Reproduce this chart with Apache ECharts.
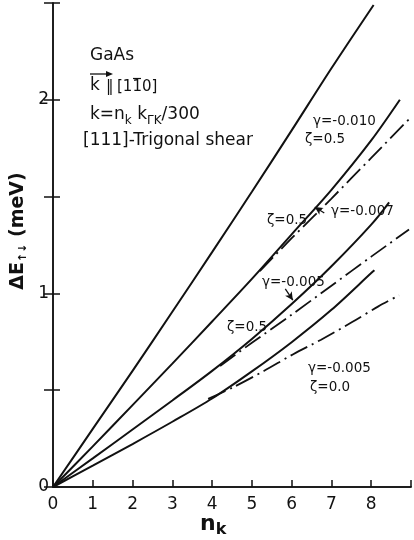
<!DOCTYPE html>
<html><head><meta charset="utf-8">
<script src="https://cdn.jsdelivr.net/npm/echarts@6/dist/echarts.min.js"></script>
<style>html,body{margin:0;padding:0;background:#fff}#c{width:414px;height:540px}</style>
</head><body><div id="c"></div>
<script>
// ---- data ----
const xTickLabels = ['0','1','2','3','4','5','6','7','8'];
const yTickLabels = ['0','1','2'];

// solid curves
const solid1X = [0, 1, 2, 3, 4, 5, 6, 7, 8.06];
const solid1Y = [0, 0.30, 0.60, 0.905, 1.213, 1.525, 1.842, 2.163, 2.49];
const solid2X = [0, 1, 2, 3, 4, 5, 6, 7, 8, 8.72];
const solid2Y = [0, 0.21, 0.423, 0.637, 0.855, 1.075, 1.305, 1.535, 1.79, 2.0];
const solid3X = [0, 1, 2, 3, 4, 5, 6, 7, 8, 8.45];
const solid3Y = [0, 0.148, 0.297, 0.447, 0.600, 0.765, 0.945, 1.14, 1.355, 1.47];
const solid4X = [0, 1, 2, 3, 4, 5, 6, 7, 8, 8.08];
const solid4Y = [0, 0.11, 0.222, 0.337, 0.457, 0.597, 0.748, 0.915, 1.105, 1.12];

// dash-dot curves
const dash2X = [5.2, 6, 7, 8, 8.95];
const dash2Y = [1.115, 1.285, 1.49, 1.70, 1.90];
const dash3X = [4.2, 5, 6, 7, 8, 8.95];
const dash3Y = [0.625, 0.745, 0.89, 1.04, 1.19, 1.33];
const dash4X = [3.9, 4.52, 5.3, 6.04, 6.74, 7.52, 8.18, 8.7];
const dash4Y = [0.455, 0.514, 0.599, 0.686, 0.761, 0.852, 0.933, 0.99];

// ---- chart ----
const pairs = (xs, ys) => xs.map((x, i) => [x, ys[i]]);
const FONT = '"DejaVu Sans", sans-serif';
const INK = '#111';

function solid(xs, ys) {
  return { type: 'line', data: pairs(xs, ys), showSymbol: false, smooth: 0.3,
    lineStyle: { color: INK, width: 2 }, silent: true, animation: false };
}
function dashdot(xs, ys) {
  return { type: 'line', data: pairs(xs, ys), showSymbol: false, smooth: 0.3,
    lineStyle: { color: INK, width: 1.8, type: [19, 5, 2, 5] }, silent: true, animation: false };
}

const chart = echarts.init(document.getElementById('c'), null, { renderer: 'canvas' });

const txt = (text, x, y, size, extra) => ({
  type: 'text', x: x, y: y, silent: true,
  style: Object.assign({ text: text, fill: INK, font: size + 'px ' + FONT,
    align: 'left', verticalAlign: 'middle' }, extra || {})
});

const option = {
  animation: false,
  backgroundColor: '#fff',
  grid: { left: 53, top: 3, width: 365.4, height: 484 },
  xAxis: [
    { type: 'value', min: 0, max: 9, interval: 1, position: 'bottom',
      axisLine: { show: true, lineStyle: { color: INK, width: 1.5 } },
      axisTick: { show: true, inside: true, length: 7, lineStyle: { color: INK, width: 1.5 } },
      axisLabel: { margin: 9, color: INK, fontSize: 17, fontFamily: FONT,
        formatter: v => (v <= 8 ? xTickLabels[v] : '') },
      splitLine: { show: false } },
    { type: 'value', min: 0, max: 9, position: 'top',
      axisLine: { show: true, lineStyle: { color: INK, width: 1.5 } },
      axisTick: { show: false }, axisLabel: { show: false }, splitLine: { show: false } }
  ],
  yAxis: [
    { type: 'value', min: 0, max: 2.5, interval: 0.5, position: 'left',
      axisLine: { show: true, lineStyle: { color: INK, width: 1.5 } },
      axisTick: { show: true, inside: true, length: 7, lineStyle: { color: INK, width: 1.5 } },
      axisLabel: { margin: 4, color: INK, fontSize: 17, fontFamily: FONT,
        formatter: v => (Number.isInteger(v) ? yTickLabels[v] : '') },
      splitLine: { show: false } },
    { type: 'value', min: 0, max: 2.5, interval: 0.5, position: 'right',
      axisLine: { show: true, lineStyle: { color: INK, width: 1.5 } },
      axisTick: { show: true, inside: true, length: 9, lineStyle: { color: INK, width: 1.5 } },
      axisLabel: { show: false }, splitLine: { show: false } }
  ],
  series: [
    solid(solid1X, solid1Y),
    solid(solid2X, solid2Y),
    solid(solid3X, solid3Y),
    solid(solid4X, solid4Y),
    dashdot(dash2X, dash2Y),
    dashdot(dash3X, dash3Y),
    dashdot(dash4X, dash4Y),
    { type: 'line', data: [], silent: true,
      markLine: { silent: true, animation: false, symbol: ['none', 'arrow'], symbolSize: [6, 8],
        label: { show: false }, lineStyle: { color: INK, width: 1.3, type: 'solid' },
        data: [
          [{ coord: [6.82, 1.415] }, { coord: [6.58, 1.446] }],
          [{ coord: [5.84, 1.023] }, { coord: [6.03, 0.965] }]
        ] } }
  ],
  graphic: [
    txt('GaAs', 90, 56, 17),
    txt('k', 90, 86, 17),
    { type: 'line', silent: true, shape: { x1: 90, y1: 74, x2: 110, y2: 74 }, style: { stroke: INK, lineWidth: 1.3 } },
    { type: 'polygon', silent: true, shape: { points: [[113, 74], [106, 71], [106, 77]] }, style: { fill: INK } },
    txt('\u2016', 106, 87, 15),
    txt('[110]', 117, 87, 15),
    { type: 'line', silent: true, shape: { x1: 133, y1: 78.5, x2: 141, y2: 78.5 }, style: { stroke: INK, lineWidth: 1.2 } },
    { type: 'text', x: 90, y: 115, silent: true,
      style: { text: 'k=n{s|k} k{s|\u0393K}/300', fill: INK, font: '17px ' + FONT, align: 'left', verticalAlign: 'middle',
        rich: { s: { fontSize: 12, fontFamily: FONT, fill: INK, padding: [11, 0, 0, 0], lineHeight: 12 } } } },
    txt('[111]-Trigonal shear', 83, 141, 17),
    txt('\u03b3=-0.010', 313, 121, 13.5),
    txt('\u03b6=0.5', 305, 139, 13.5),
    txt('\u03b6=0.5', 267, 220, 13.5),
    txt('\u03b3=-0.007', 331, 211, 13.5),
    txt('\u03b3=-0.005', 262, 282, 13.5),
    txt('\u03b6=0.5', 227, 327, 13.5),
    txt('\u03b3=-0.005', 308, 368, 13.5),
    txt('\u03b6=0.0', 310, 387, 13.5),
    { type: 'text', x: 18, y: 231, rotation: Math.PI / 2, silent: true,
      style: { text: '\u0394E{s|\u2191\u2193} (meV)', fill: INK, font: 'bold 19px ' + FONT, align: 'center', verticalAlign: 'middle',
        rich: { s: { fontSize: 11, fontWeight: 'bold', fontFamily: FONT, fill: INK, padding: [10, 0, 0, 0], lineHeight: 11 } } } },
    { type: 'text', x: 200, y: 524, silent: true,
      style: { text: 'n{s|k}', fill: INK, font: 'bold 22px ' + FONT, align: 'left', verticalAlign: 'middle',
        rich: { s: { fontSize: 16, fontWeight: 'bold', fontFamily: FONT, fill: INK, padding: [12, 0, 0, 0], lineHeight: 16 } } } }
  ]
};
chart.setOption(option);
</script>
</body></html>
